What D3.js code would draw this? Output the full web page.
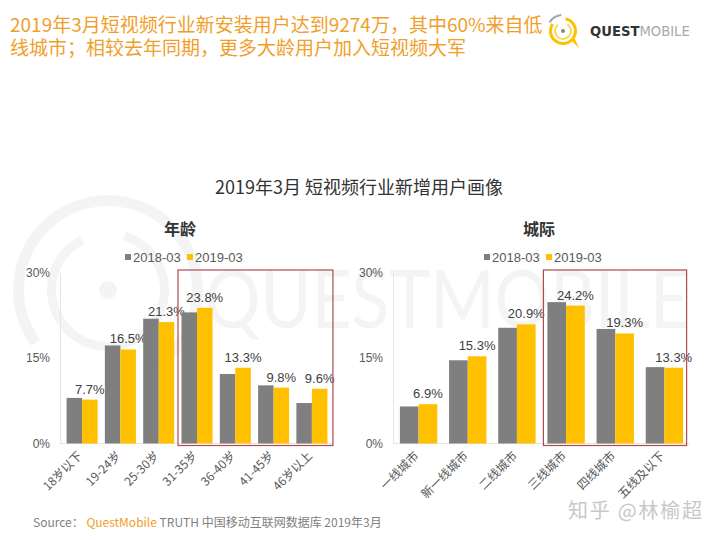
<!DOCTYPE html>
<html><head><meta charset="utf-8">
<script src="https://cdn.jsdelivr.net/npm/d3@7"></script>
<style>
body{margin:0;background:#fff;}
svg{display:block;}
</style></head>
<body>
<svg id="c" width="720" height="540"></svg>
<script>
const headerLines = ["2019年3月短视频行业新安装用户达到9274万，其中60%来自低", "线城市；相较去年同期，更多大龄用户加入短视频大军"];
const chartTitle = "2019年3月 短视频行业新增用户画像";
const seriesNames = ["2018-03", "2019-03"];
const ageCategories = ["18岁以下", "19-24岁", "25-30岁", "31-35岁", "36-40岁", "41-45岁", "46岁以上"];
const age2018 = [8.0, 17.2, 21.9, 23.0, 12.2, 10.2, 7.1];
const age2019 = [7.7, 16.5, 21.3, 23.8, 13.3, 9.8, 9.6];
const cityCategories = ["一线城市", "新一线城市", "二线城市", "三线城市", "四线城市", "五线及以下"];
const city2018 = [6.5, 14.6, 20.3, 24.8, 20.1, 13.4];
const city2019 = [6.9, 15.3, 20.9, 24.2, 19.3, 13.3];
const yTicks = [0, 15, 30];

const svg = d3.select("#c");
const CJK = "'Noto Sans CJK SC', 'Noto Sans', sans-serif";
const LAT = "'Liberation Sans', Arial, sans-serif";
const GRAY = "#7f7f7f", YEL = "#ffc000", ORANGE = "#f0a02a", BOX = "#b04a52";

// background watermark
svg.append("path").attr("d", d3.arc()({innerRadius: 84, outerRadius: 95, startAngle: -2.2, endAngle: 2.6})).attr("transform", "translate(108,290)").attr("fill", "#f4f4f4");
svg.append("path").attr("d", d3.arc()({innerRadius: 52, outerRadius: 61, startAngle: 0.3, endAngle: 5.8})).attr("transform", "translate(108,290)").attr("fill", "#f4f4f4");
svg.append("circle").attr("cx", 108).attr("cy", 290).attr("r", 9).attr("fill", "#f4f4f4");
svg.append("text").attr("x", 205).attr("y", 328).attr("textLength", 485).attr("lengthAdjust", "spacingAndGlyphs")
  .attr("font-family", "Lato, 'Open Sans', sans-serif").attr("font-size", 82).attr("fill", "#f4f4f4").text("QUESTMOBILE");

// header
svg.selectAll("text.hdr").data(headerLines).join("text").attr("class", "hdr")
  .attr("x", 10).attr("y", (d, i) => 32 + i * 23).attr("font-family", CJK).attr("font-size", 19)
  .attr("fill", ORANGE).text(d => d);

// logo
const lg = svg.append("g").attr("transform", "translate(563,31)");
lg.append("path").attr("d", d3.arc()({innerRadius: 11, outerRadius: 14, startAngle: 0.2, endAngle: 5.3})).attr("fill", YEL);
lg.append("path").attr("d", d3.arc()({innerRadius: 7, outerRadius: 9, startAngle: 0.6, endAngle: 5.6})).attr("fill", "#fbd85a");
lg.append("path").attr("d", d3.arc()({innerRadius: 15, outerRadius: 17, startAngle: -1.0, endAngle: -0.1})).attr("fill", "#9aa8b8");
lg.append("path").attr("d", "M8,9 L16,17 L11,6 Z").attr("fill", YEL);
lg.append("circle").attr("r", 2).attr("fill", "#888");
const lt = svg.append("text").attr("x", 590).attr("y", 36).attr("font-family", "'DejaVu Sans', sans-serif").attr("font-size", 13.2);
lt.append("tspan").attr("font-weight", "bold").attr("fill", "#333").text("QUEST");
lt.append("tspan").attr("fill", "#aaa").text("MOBILE");

// chart title
svg.append("text").attr("x", 359).attr("y", 194).attr("text-anchor", "middle").attr("font-family", CJK)
  .attr("font-size", 18).attr("fill", "#333").text(chartTitle);

function drawChart(opts) {
  const {cats, v1, v2, x0, x1, sub, subX, legX, p, o, boxFrom, boxPadL, boxPadR} = opts;
  const g = svg.append("g");
  const y = d3.scaleLinear().domain([0, 30]).range([443.5, 272.5]);
  const x = d3.scaleBand().domain(cats).range([x0, x1]).paddingInner(p).paddingOuter(o);
  const xs = d3.scaleBand().domain(seriesNames).range([0, x.bandwidth()]);
  g.append("text").attr("x", subX).attr("y", 235).attr("text-anchor", "middle").attr("font-family", CJK)
    .attr("font-size", 16).attr("font-weight", "bold").attr("fill", "#333").text(sub);
  const leg = g.append("g").attr("transform", `translate(${legX},257)`);
  const li = leg.selectAll("g").data(seriesNames).join("g").attr("transform", (d, i) => `translate(${i * 62},0)`);
  li.append("rect").attr("x", 0).attr("y", -3).attr("width", 6).attr("height", 6).attr("fill", (d, i) => i ? YEL : GRAY);
  li.append("text").attr("x", 8).attr("y", 4.5).attr("font-family", LAT).attr("font-size", 13).attr("fill", "#595959").text(d => d);
  const ya = g.append("g").attr("transform", `translate(${x0},0)`)
    .call(d3.axisLeft(y).tickValues(yTicks).tickFormat(d => d + "%").tickSize(0).tickPadding(10));
  ya.select(".domain").attr("stroke", "#e6e6e6");
  ya.selectAll("text").attr("font-family", LAT).attr("font-size", 12).attr("fill", "#595959");
  g.append("line").attr("x1", x0).attr("x2", x1).attr("y1", y(0)).attr("y2", y(0)).attr("stroke", "#e6e6e6");
  const rows = cats.map((c, i) => ({c, vals: [v1[i], v2[i]]}));
  const grp = g.selectAll("g.grp").data(rows).join("g").attr("class", "grp").attr("transform", d => `translate(${x(d.c)},0)`);
  grp.selectAll("rect").data(d => d.vals.map((v, j) => ({s: seriesNames[j], v, j}))).join("rect")
    .attr("x", d => xs(d.s)).attr("width", xs.bandwidth()).attr("y", d => y(d.v)).attr("height", d => y(0) - y(d.v))
    .attr("fill", d => d.j ? YEL : GRAY);
  grp.append("text").attr("x", xs(seriesNames[1]) + xs.bandwidth() / 2).attr("y", d => y(d.vals[1]) - 6)
    .attr("text-anchor", "middle").attr("font-family", LAT).attr("font-size", 13).attr("fill", "#404040")
    .text(d => d.vals[1].toFixed(1) + "%");
  g.selectAll("text.xl").data(cats).join("text").attr("class", "xl")
    .attr("transform", d => `translate(${x(d) + x.bandwidth() / 2 - 2},${y(0) + 10}) rotate(-45)`)
    .attr("text-anchor", "end").attr("dy", "0.35em").attr("font-family", CJK).attr("font-size", 12)
    .attr("fill", "#595959").text(d => d);
  const bx0 = x(cats[boxFrom]) - boxPadL, bx1 = x(cats[cats.length - 1]) + x.bandwidth() + boxPadR;
  g.append("rect").attr("x", bx0).attr("y", y(30) - 2.5).attr("width", bx1 - bx0).attr("height", y(0) + 2 - (y(30) - 2.5))
    .attr("fill", "none").attr("stroke", BOX).attr("stroke-width", 1.2);
}

drawChart({cats: ageCategories, v1: age2018, v2: age2019, x0: 60, x1: 334, sub: "年龄", subX: 180, legX: 125,
  p: 0.19, o: 0.172, boxFrom: 3, boxPadL: 3.5, boxPadR: 5.5});
drawChart({cats: cityCategories, v1: city2018, v2: city2019, x0: 393, x1: 690, sub: "城际", subX: 539, legX: 484,
  p: 0.24, o: 0.14, boxFrom: 3, boxPadL: 4, boxPadR: 3.5});

const src = svg.append("text").attr("x", 33).attr("y", 527).attr("font-family", CJK).attr("font-size", 12).attr("fill", "#7f7f7f");
src.append("tspan").text("Source：  ");
src.append("tspan").attr("fill", ORANGE).text("QuestMobile");
src.append("tspan").text(" TRUTH 中国移动互联网数据库 2019年3月");

svg.append("text").attr("x", 568).attr("y", 518).attr("textLength", 134).attr("font-family", CJK).attr("font-size", 20)
  .attr("fill", "#c8c8c8").text("知乎 @林榆超");
</script>
</body></html>
